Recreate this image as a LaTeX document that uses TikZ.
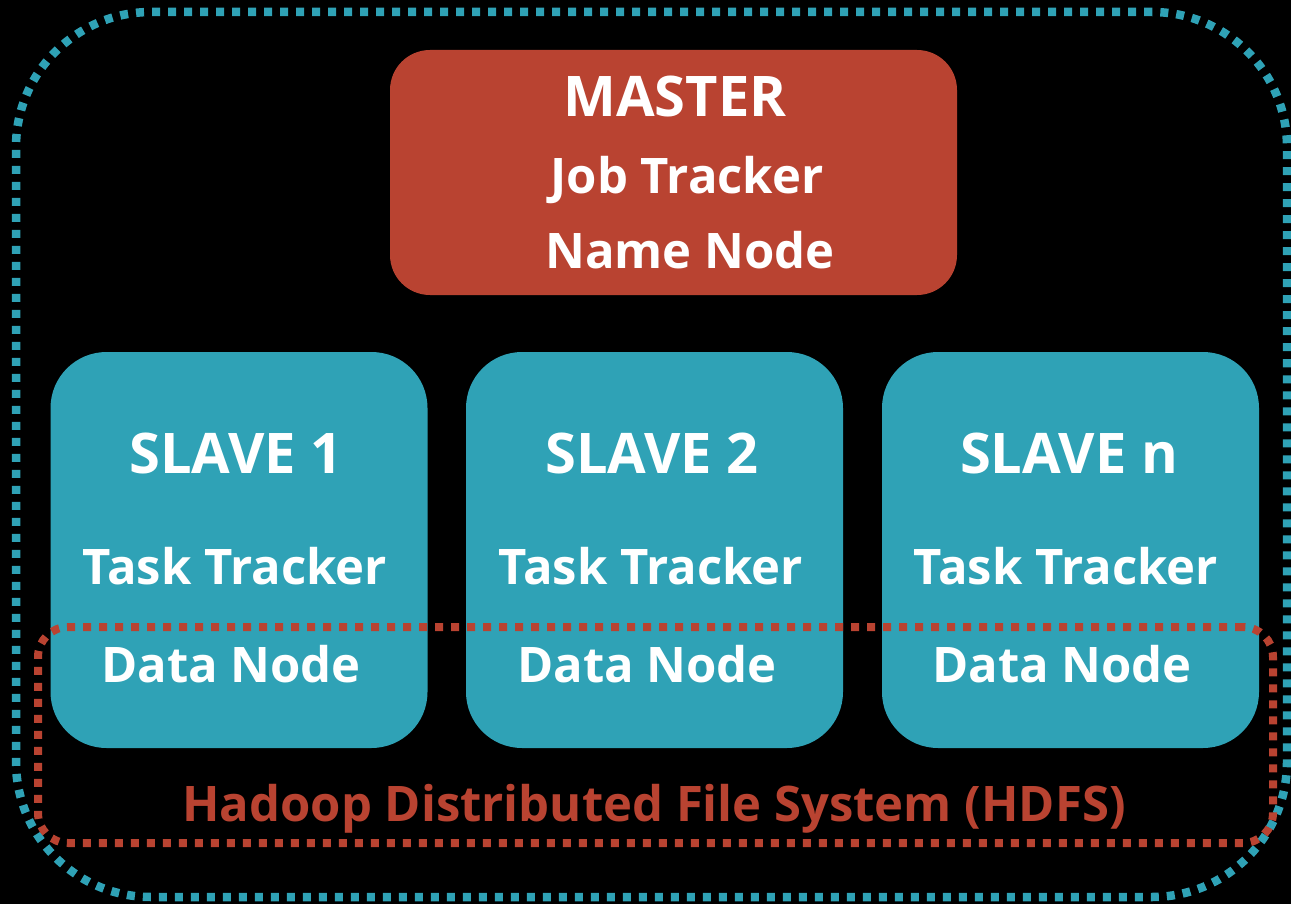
\documentclass[tikz,border=0pt]{standalone}
\usepackage{fontspec}
\setmainfont{Open Sans}
\definecolor{hred}{RGB}{185,67,49}
\definecolor{hteal}{RGB}{47,162,182}
\begin{document}
\begin{tikzpicture}[x=1pt,y=-1pt,
  box/.style={rectangle, inner sep=0pt, outer sep=0pt},
  masterbox/.style={box, fill=hred, rounded corners=40pt},
  slavebox/.style={box, fill=hteal, rounded corners=56pt, minimum width=377pt, minimum height=396pt},
  clusterline/.style={box, draw=hteal, line width=8.5pt, dash pattern=on 8pt off 8pt, rounded corners=135pt},
  hdfsline/.style={box, draw=hred, line width=8pt, dash pattern=on 8pt off 8pt, rounded corners=30pt},
  title/.style={anchor=base, inner sep=0pt, text=white, font=\bfseries\fontsize{56}{60}\selectfont},
  label/.style={anchor=base, inner sep=0pt, text=white, font=\bfseries\fontsize{49}{58}\selectfont},
  hdfstext/.style={anchor=base, inner sep=0pt, text=hred, font=\bfseries\fontsize{49}{58}\selectfont}]
\fill[black] (0,0) rectangle (1291,904);
\useasboundingbox (0,0) rectangle (1291,904);
% outer cluster
\node[clusterline, minimum width=1271pt, minimum height=885pt] (cluster) at (651.5,454.5) {};
% master
\node[masterbox, minimum width=567pt, minimum height=245pt] (master) at (673.5,172.5) {};
\node[title] (mtitle) at (675,117) {MASTER};
\node[label] (jt) at (687,194) {Job Tracker};
\node[label] (nn) at (690,269) {Name Node};
% slaves
\node[slavebox] (s1) at (239,550) {};
\node[slavebox] (s2) at (654.5,550) {};
\node[slavebox] (sn) at (1070.5,550) {};
\node[title] (s1t) at (236,473) {SLAVE 1};
\node[title] (s2t) at (652,473) {SLAVE 2};
\node[title] (snt) at (1069,473) {SLAVE n};
\node[label] (s1tt) at (235,584) {Task Tracker};
\node[label] (s2tt) at (651,584) {Task Tracker};
\node[label] (sntt) at (1066,584) {Task Tracker};
\node[label] (s1dn) at (231,682) {Data Node};
\node[label] (s2dn) at (647,682) {Data Node};
\node[label] (sndn) at (1062,682) {Data Node};
% HDFS
\node[hdfsline, minimum width=1235pt, minimum height=216pt] (hdfs) at (655.5,735) {};
\node[hdfstext] (hdfst) at (654,821) {Hadoop Distributed File System (HDFS)};
\end{tikzpicture}
\end{document}
